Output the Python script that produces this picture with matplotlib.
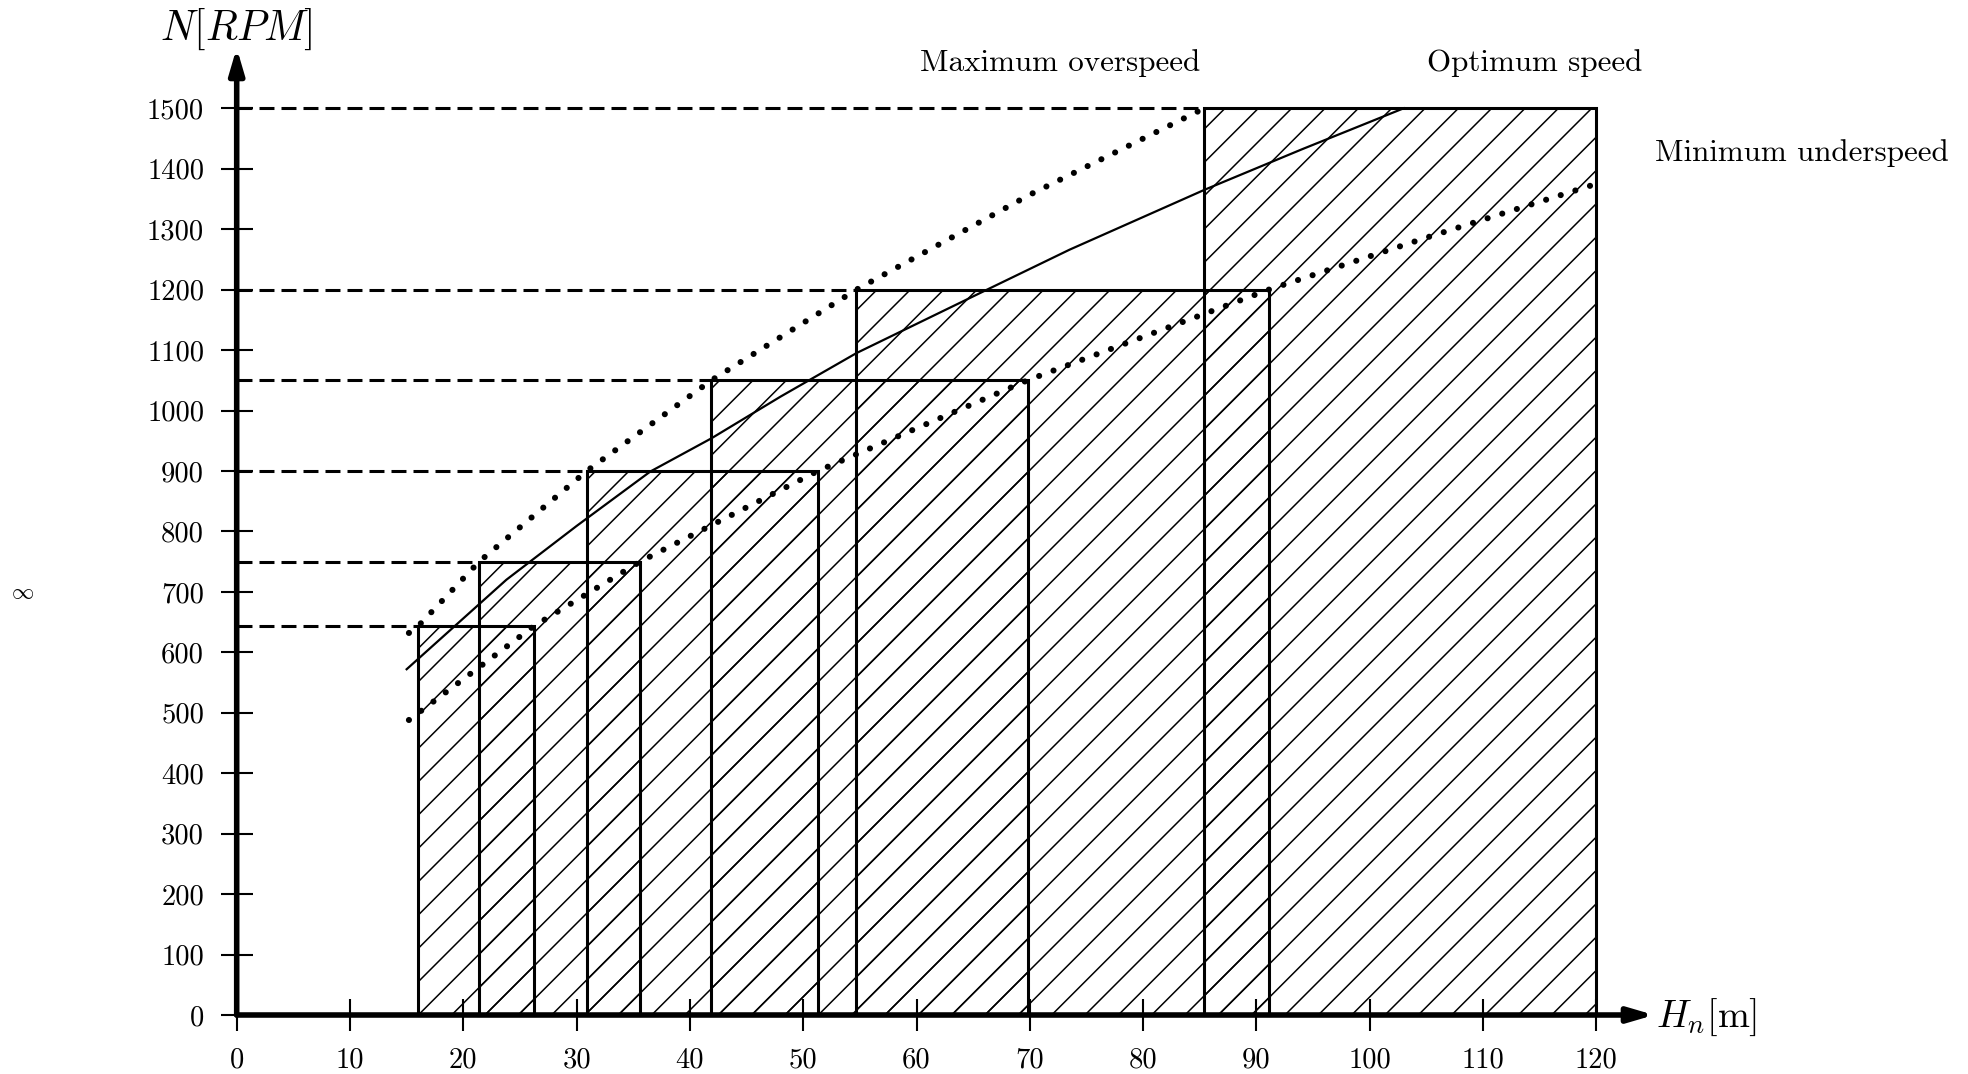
import matplotlib
matplotlib.use("Agg")
import matplotlib.pyplot as plt

plt.rcParams['font.family'] = ['cmr10', 'DejaVu Serif']
plt.rcParams['mathtext.fontset'] = 'cm'
plt.rcParams['axes.formatter.use_mathtext'] = True
plt.rcParams['hatch.linewidth'] = 0.55
plt.rcParams['hatch.color'] = 'black'

# ---- data ----
speed_levels = [643, 750, 900, 1050, 1200, 1500]          # N [RPM]
head_min = [16.0, 21.4, 30.9, 41.9, 54.7, 85.4]           # left edge H_n [m]
head_max = [26.2, 35.6, 51.3, 69.8, 91.1, 120.0]          # right edge H_n [m]

over_H = [15.2, 16.0, 21.4, 30.9, 41.9, 54.7, 70.0, 85.4]
over_N = [632, 643, 750, 900, 1050, 1200, 1357, 1500]

under_H = [15.2, 26.2, 35.6, 51.3, 69.8, 91.1, 105.0, 120.0]
under_N = [488, 643, 750, 900, 1050, 1200, 1286, 1375]

opt_H = [15.0, 23.8, 30.0, 36.5, 41.9, 48.0, 54.7, 65.9, 73.5, 85.4, 94.0, 103.0]
opt_N = [572, 720, 809, 899, 954, 1023, 1095, 1197, 1266, 1365, 1432, 1500]

x_ticks = list(range(0, 121, 10))
y_ticks = list(range(0, 1501, 100))

fig = plt.figure(figsize=(9.84, 5.37), dpi=200)
ax = fig.add_axes([0, 0, 1, 1])
ax.set_xlim(-20.89, 152.8)
ax.set_ylim(-97.6, 1679.1)
ax.patch.set_visible(False)

# hatched rectangles
ax.bar(head_min, speed_levels, width=[r - l for l, r in zip(head_min, head_max)],
       bottom=0, align='edge', fill=False, hatch='//',
       edgecolor='black', linewidth=1.1, zorder=2)

# dashed guide lines
ax.hlines(speed_levels, 0, head_min, colors='black', linewidth=1.1,
          linestyles=(0, (4.9, 2.3)), zorder=2)

# curves
ax.plot(over_H, over_N, color='black', linewidth=2.2,
        linestyle=(0, (0.01, 2.5)), dash_capstyle='round', zorder=3)
ax.plot(under_H, under_N, color='black', linewidth=2.2,
        linestyle=(0, (0.01, 2.5)), dash_capstyle='round', zorder=3)
ax.plot(opt_H, opt_N, color='black', linewidth=0.8, zorder=3)

# axes with arrows
for s in ax.spines.values():
    s.set_visible(False)
ax.spines['left'].set_position(('data', 0))
ax.spines['bottom'].set_position(('data', 0))
ax.annotate('', xy=(125.1, 0), xytext=(0, 0),
            arrowprops=dict(arrowstyle='-|>,head_length=0.75,head_width=0.22',
                            color='black', lw=2.0, mutation_scale=10,
                            shrinkA=0, shrinkB=0), zorder=4)
ax.annotate('', xy=(0, 1600), xytext=(0, 0),
            arrowprops=dict(arrowstyle='-|>,head_length=0.75,head_width=0.22',
                            color='black', lw=2.0, mutation_scale=10,
                            shrinkA=0, shrinkB=0), zorder=4)

ax.set_xticks(x_ticks)
ax.set_yticks(y_ticks)
ax.set_xticklabels([str(v) for v in x_ticks])
ax.set_yticklabels([str(v) for v in y_ticks])
ax.tick_params(axis='both', direction='inout', length=11.5, width=0.75,
               pad=6, labelsize=10.3, colors='black')

# labels
ax.text(0, 1613, r'$N[RPM]$', fontsize=15, ha='center', va='baseline')
ax.text(125.3, -19, r'$H_n[\mathrm{m}]$', fontsize=13.8, ha='left', va='baseline')
ax.text(72.7, 1575, 'Maximum overspeed', fontsize=11.2, ha='center', va='center')
ax.text(114.6, 1575, 'Optimum speed', fontsize=11.2, ha='center', va='center')
ax.text(138.1, 1426, 'Minimum underspeed', fontsize=11.2, ha='center', va='center')
ax.text(-18.9, 698, r'$\infty$', fontsize=8, ha='center', va='center')

fig.savefig('out.png', dpi=200)
